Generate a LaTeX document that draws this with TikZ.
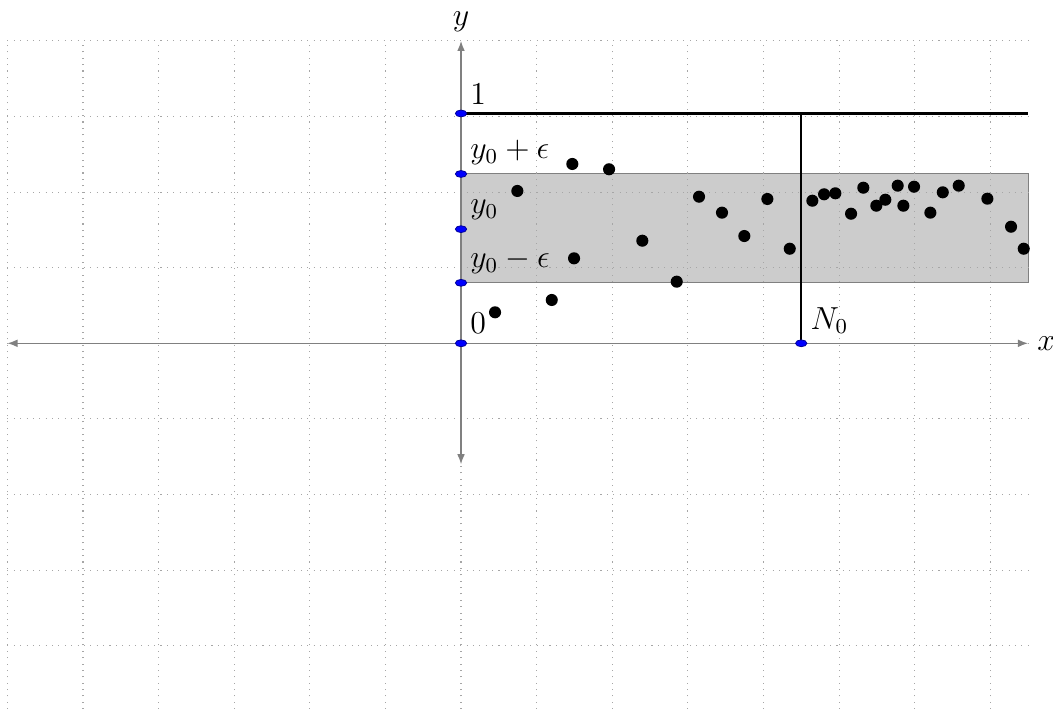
\documentclass[tikz,border=0pt]{standalone}
\usetikzlibrary{arrows.meta}
\begin{document}
\begin{tikzpicture}[>={Latex[length=3.8pt,width=2.9pt]},
		font=\large,
		bluemark/.style={fill=blue,draw=blue!60!black,line width=0.3pt},
		datadot/.style={fill=black},
		axisline/.style={gray,line width=0.5pt}]
		\useasboundingbox (-6.098,-4.837) rectangle (7.83,4.541);
		% band around y_0
		\fill[gray!40,draw=gray] (0,0.8) rectangle (7.5,2.24);
		\draw[gray!70,dotted,line width=0.4pt] (-6,-4.84) grid (7.5,4);
		\coordinate (O) at (0,0);
		\coordinate (XL) at (-6,0);
		\coordinate (XR) at (7.5,0);
		\coordinate (YB) at (0,-1.6);
		\coordinate (YT) at (0,4);
		\coordinate (Lo) at (0,0.8);
		\coordinate (Mid) at (0,1.51);
		\coordinate (Hi) at (0,2.24);
		\coordinate (One) at (0,3.04);
		\coordinate (OneR) at (7.5,3.04);
		\coordinate (N) at (4.5,0);
		\coordinate (NT) at (4.5,3.04);
		\draw[axisline,<->] (XL) -- (XR);
		\draw[axisline,<->] (YB) -- (YT);
		\node[right] (xlab) at (XR) {$x$};
		\node[above] (ylab) at (YT) {$y$};
		\draw[black,thick] (One) -- (OneR);
		\draw[black,thick] (N) -- (NT);
		% sequence terms
		\foreach \px/\py in {0.45/0.41,0.745/2.015,1.20/0.573,1.472/2.372,1.495/1.124,
			1.958/2.302,2.398/1.357,2.853/0.815,3.148/1.939,3.452/1.728,3.747/1.419,
			4.052/1.909,4.348/1.251,4.647/1.886,4.802/1.971,4.951/1.984,5.159/1.714,
			5.321/2.058,5.493/1.820,5.612/1.899,5.776/2.085,5.851/1.820,5.992/2.071,
			6.208/1.728,6.372/1.997,6.583/2.085,6.962/1.913,7.275/1.542,7.443/1.251}
			\fill[datadot] (\px,\py) circle (0.08);
		\draw[bluemark] (O) ellipse [x radius=0.075,y radius=0.045];
		\draw[bluemark] (Lo) ellipse [x radius=0.075,y radius=0.045];
		\draw[bluemark] (Mid) ellipse [x radius=0.075,y radius=0.045];
		\draw[bluemark] (Hi) ellipse [x radius=0.075,y radius=0.045];
		\draw[bluemark] (One) ellipse [x radius=0.075,y radius=0.045];
		\draw[bluemark] (N) ellipse [x radius=0.075,y radius=0.045];
		\node[above right] (zero) at (O) {$0$};
		\node[above right] (ylo) at (Lo) {$y_0-\epsilon$};
		\node[above right] (ymid) at (Mid) {$y_0$};
		\node[above right] (yhi) at (Hi) {$y_0+\epsilon$};
		\node[above right] (one) at (One) {$1$};
		\node[above right] (nzero) at (N) {$N_0$};
	\end{tikzpicture}
\end{document}
